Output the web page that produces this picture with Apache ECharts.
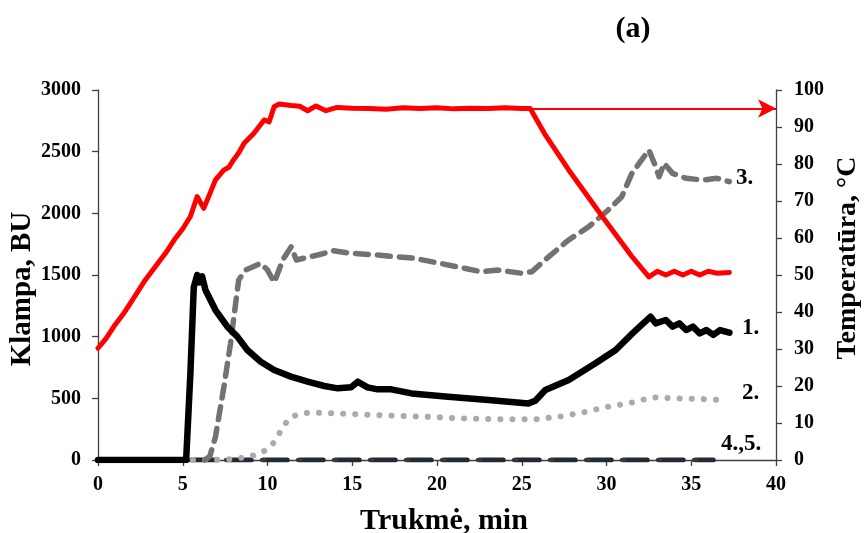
<!DOCTYPE html>
<html><head><meta charset="utf-8">
<script src="https://cdn.jsdelivr.net/npm/echarts@6/dist/echarts.min.js"></script>
<style>html,body{margin:0;padding:0;background:#fff}#c{width:866px;height:533px}</style>
</head><body><div id="c"></div>
<script>
// Temperature (right axis, °C)
var tempX = [0,0.5,1,1.5,2,2.78,3.5,4,4.5,5,5.45,5.85,6.24,6.6,6.93,7.43,7.72,7.92,8.3,8.62,9.2,9.8,10.1,10.39,10.69,11.4,11.9,12.37,12.86,13.45,14.1,15,16,17,18,19,20,21,22,23,24,25,25.5,26.4,27.77,29.75,31.5,32.5,33,33.5,34,34.5,35,35.5,36,36.5,37.25];
var tempY = [30.2,33,36.5,39.5,43,48.6,53,56,59.5,62.5,65.8,71.2,68,72,75.7,78.4,79.1,80.6,83,85.6,88.3,91.9,91.4,95.5,96.2,95.8,95.6,94.4,95.7,94.4,95.3,95.1,95,94.8,95.2,95,95.2,94.9,95.1,95,95.2,95,95,87.8,78.4,65.8,55,49.5,51,50,51,50,51,50,51,50.5,50.7];
// Series 1 (BU)
var s1X = [0,5.2,5.45,5.65,5.85,6.0,6.14,6.34,6.93,7.63,8.22,8.81,9.6,10.39,11.38,12.37,13.35,14.15,14.93,15.33,15.9,16.5,17.3,18.5,20.66,23.03,25.4,25.8,26.39,27.77,29.35,30.54,31.53,32.6,32.9,33.5,33.9,34.3,34.7,35.1,35.5,35.9,36.3,36.7,37.25];
var s1Y = [0,0,700,1400,1500,1440,1490,1378,1216,1081,1000,892,797,730,676,635,600,581,589,635,589,573,573,540,513,486,459,480,567,649,784,892,1027,1162,1108,1135,1081,1108,1054,1081,1027,1054,1014,1054,1032];
// Series 2 (BU)
var s2X = [5.6,6.8,8.0,8.9,9.6,10.2,10.6,10.9,11.4,12.07,12.7,14,15.5,17.1,19.3,21.45,23.6,25.8,27.2,28.56,29.9,31.3,32.7,34.1,35.5,37.05];
var s2Y = [0,0,8,27,54,108,189,270,351,378,384,378,370,360,351,338,330,330,351,384,427,459,508,500,495,486];
// Series 3 (BU)
var s3X = [6.3,6.6,6.93,7.43,7.82,8.12,8.3,8.7,9.6,10.0,10.4,10.9,11.4,11.7,12.96,13.9,14.9,16.5,18.7,20.66,22.6,23.6,25.0,25.6,26.6,27.77,28.96,30.1,30.9,31.5,32.5,32.9,33.1,33.4,33.9,34.7,35.7,36.5,37.25];
var s3Y = [0,30,189,595,946,1270,1460,1540,1595,1540,1440,1622,1730,1622,1662,1697,1676,1662,1635,1581,1527,1540,1514,1527,1649,1784,1892,2027,2135,2324,2514,2378,2297,2405,2324,2284,2270,2284,2257];
// Series 4 and 5 (BU)
var s4X = [5.5,36.3];
var s4Y = [0,0];
var s5X = [6.0,35.8];
var s5Y = [0,0];
// Axis ticks
var xTicks = [0,5,10,15,20,25,30,35,40];
var leftTicks = [0,500,1000,1500,2000,2500,3000];
var rightTicks = [0,10,20,30,40,50,60,70,80,90,100];
var seriesLabels = ['1.','2.','3.','4.,5.'];
var axisNames = {x:'Trukmė, min', left:'Klampa, BU', right:'Temperatūra, °C'};

function pairs(xs, ys){ return xs.map(function(x,i){return [x, ys[i]];}); }

var FONT = '"Liberation Serif","Times New Roman",serif';
var tickLbl = {fontFamily: FONT, fontWeight:'bold', fontSize:20, color:'#000'};
var axisLine = {show:true, lineStyle:{color:'#404040', width:1.3}};
var tick = {show:true, length:6, lineStyle:{color:'#404040', width:1.3}};

var chart = echarts.init(document.getElementById('c'), null, {renderer:'canvas'});
chart.setOption({
  animation:false,
  backgroundColor:'#fff',
  grid:{left:98, right:90, top:90, bottom:73, containLabel:false, outerBoundsMode:'none'},
  xAxis:{type:'value', min:xTicks[0], max:xTicks[xTicks.length-1], interval:5,
    axisLine:axisLine, axisTick:tick,
    axisLabel:Object.assign({margin:15}, tickLbl), splitLine:{show:false}},
  yAxis:[
    {type:'value', min:leftTicks[0], max:leftTicks[leftTicks.length-1], interval:500,
     axisLine:axisLine, axisTick:tick,
     axisLabel:Object.assign({margin:17, formatter:function(v){return String(v);}}, tickLbl), splitLine:{show:false}},
    {type:'value', min:rightTicks[0], max:rightTicks[rightTicks.length-1], interval:10, position:'right',
     axisLine:axisLine, axisTick:tick,
     axisLabel:Object.assign({margin:18}, tickLbl), splitLine:{show:false}}
  ],
  series:[
    {name:'4.', type:'line', data:pairs(s4X,s4Y), showSymbol:false, z:3,
     lineStyle:{color:'#222a35', width:5, type:[24,12], cap:'round'}},
    {name:'5.', type:'line', data:pairs(s5X,s5Y), showSymbol:false, z:3,
     lineStyle:{color:'#3b3838', width:4, type:[3,33], dashOffset:-26, cap:'round'}},
    {name:'2.', type:'line', data:pairs(s2X,s2Y), showSymbol:false, z:4,
     lineStyle:{color:'#aeaaaa', width:6, type:[0.1,12], cap:'round'}},
    {name:'3.', type:'line', data:pairs(s3X,s3Y), showSymbol:false, z:5,
     lineStyle:{color:'#767171', width:5.5, type:[13,9], cap:'round', join:'round'}},
    {name:'1.', type:'line', data:pairs(s1X,s1Y), showSymbol:false, z:6,
     lineStyle:{color:'#000', width:6.5, cap:'round', join:'round'}},
    {name:'T', type:'line', yAxisIndex:1, data:pairs(tempX,tempY), showSymbol:false, z:7,
     lineStyle:{color:'#ff0000', width:5, cap:'round', join:'round'},
     markLine:{silent:true, symbol:['none','arrow'], symbolSize:[14,18], label:{show:false},
       lineStyle:{color:'#ff0000', width:2, type:'solid'},
       data:[[{coord:[25.5,95]},{coord:[40,95]}]]}}
  ],
  graphic:[
    {type:'text', x:633, y:29, style:{text:'(a)', font:'bold 30px '+FONT, fill:'#000', textAlign:'center', textVerticalAlign:'middle'}},
    {type:'text', x:444, y:521, style:{text:axisNames.x, font:'bold 30px '+FONT, fill:'#000', textAlign:'center', textVerticalAlign:'middle'}},
    {type:'text', x:23, y:289, rotation:Math.PI/2, style:{text:axisNames.left, font:'bold 29px '+FONT, fill:'#000', textAlign:'center', textVerticalAlign:'middle'}},
    {type:'text', x:848, y:258, rotation:Math.PI/2, style:{text:axisNames.right, font:'bold 28px '+FONT, fill:'#000', textAlign:'center', textVerticalAlign:'middle'}},
    {type:'text', x:736, y:178, style:{text:seriesLabels[2], font:'bold 23px '+FONT, fill:'#000', textVerticalAlign:'middle'}},
    {type:'text', x:742, y:328, style:{text:seriesLabels[0], font:'bold 23px '+FONT, fill:'#000', textVerticalAlign:'middle'}},
    {type:'text', x:742, y:393, style:{text:seriesLabels[1], font:'bold 23px '+FONT, fill:'#000', textVerticalAlign:'middle'}},
    {type:'text', x:721, y:444, style:{text:seriesLabels[3], font:'bold 23px '+FONT, fill:'#000', textVerticalAlign:'middle'}}
  ]
});
</script></body></html>
